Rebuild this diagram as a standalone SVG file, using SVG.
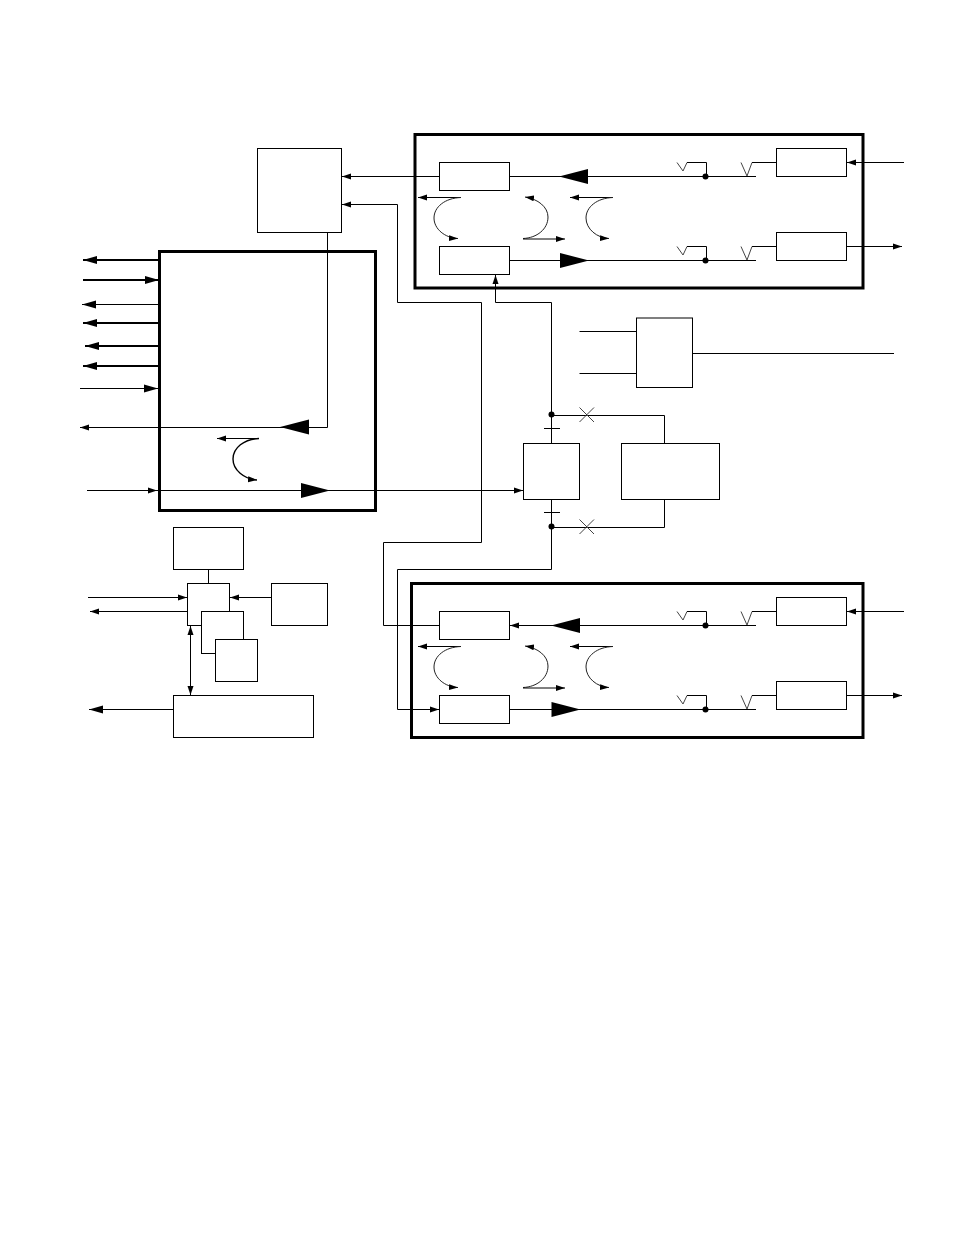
<svg xmlns="http://www.w3.org/2000/svg" xmlns:xlink="http://www.w3.org/1999/xlink" width="954" height="1235" viewBox="0 0 954 1235">
<style>
.b{fill:#fff;stroke:#000;stroke-width:1}
.f{fill:none;stroke:#000;stroke-width:3}
.l{fill:none;stroke:#000;stroke-width:1}
.t{fill:none;stroke:#000;stroke-width:2}
.c{fill:none;stroke:#222;stroke-width:1}
.s{fill:none;stroke:#444;stroke-width:1}
.a{marker-end:url(#m)}
.e{marker-end:url(#n)}
</style>
<defs>
<marker id="m" markerUnits="userSpaceOnUse" markerWidth="10" markerHeight="8" refX="9" refY="4" orient="auto"><path d="M0,1 L9,4 L0,7 Z" fill="#000"/></marker>
<marker id="n" markerUnits="userSpaceOnUse" markerWidth="14" markerHeight="10" refX="14" refY="5" orient="auto"><path d="M0,1 L14,5 L0,9 Z" fill="#000"/></marker>
<marker id="d" markerUnits="userSpaceOnUse" markerWidth="10" markerHeight="8" refX="9" refY="4" orient="auto-start-reverse"><path d="M0,1 L9,4 L0,7 Z" fill="#000"/></marker>
<path id="L" d="M0,0 L29,-7.5 L29,7.5 Z" fill="#000"/>
<path id="R" d="M0,-7.5 L29,0 L0,7.5 Z" fill="#000"/>
<g id="vv">
<path class="s" d="M677,162.5 L683,171 L687,162.5"/><path class="l" d="M687,162.5 H706.5 V176.5"/>
<path class="s" d="M741,162.5 L747,176 L752,162.5"/><path class="l" d="M752,162.5 H776.5"/>
<circle cx="705.5" cy="176.5" r="3" fill="#000"/>
</g>
<g id="cv">
<path class="l a" d="M461,197.5 H418"/>
<path class="c a" d="M461,197.5 C445,198 434,207 434,218 C434,229 445,238 458,238.5"/>
<path class="c a" d="M523,238.5 C537,238 548,229 548,217 C548,207 538,199 525,197"/>
<path class="l a" d="M523,239 H565"/>
<path class="l a" d="M613,197.5 H570"/>
<path class="c a" d="M613,197.5 C597,198 586,207 586,218 C586,229 597,238 609,238.5"/>
</g>
</defs>
<rect width="954" height="1235" fill="#fff"/>

<g id="connectors">
<path class="l a" d="M439.5,176.5 H342"/>
<path class="l" d="M509.5,176.5 H756"/>
<path class="l" d="M509.5,260.5 H756"/>
<path class="l a" d="M904,162.5 H847"/>
<path class="l a" d="M846.5,246.5 H902"/>
<path class="l a" d="M439.5,625.5 H383.5 V542.5 H481.5 V302.5 H397.5 V204.5 H342"/>
<path class="l a" d="M551.5,443.5 V302.5 H495.5 V275"/>
<path class="l a" d="M551.5,499.5 V569.5 H397.5 V709.5 H439"/>
<path class="l" d="M552,625.5 H756"/>
<path class="l" d="M509.5,709.5 H756"/>
<path class="l a" d="M904,611.5 H847"/>
<path class="l a" d="M846.5,695.5 H902"/>
<path class="l a" d="M552,625.5 H510"/>
<use xlink:href="#vv" href="#vv"/><use xlink:href="#vv" href="#vv" y="84"/>
<use xlink:href="#vv" href="#vv" y="449"/><use xlink:href="#vv" href="#vv" y="533"/>
<use xlink:href="#cv" href="#cv"/><use xlink:href="#cv" href="#cv" y="449"/>
<use xlink:href="#L" href="#L" x="559" y="176.5"/>
<use xlink:href="#R" href="#R" x="560" y="260.5"/>
<use xlink:href="#L" href="#L" x="551" y="625.5"/>
<use xlink:href="#R" href="#R" x="551.5" y="709.5"/>

<path class="t e" d="M159,260 H83"/>
<path class="t e" d="M83,280 H159"/>
<path class="l e" d="M159,304.5 H82"/>
<path class="t e" d="M159,323 H83"/>
<path class="t e" d="M159,346 H85"/>
<path class="t e" d="M159,366 H83"/>
<path class="l e" d="M80,388.5 H158"/>
<path class="l a" d="M327.5,232.5 V427.5 H80"/>
<use xlink:href="#L" href="#L" x="280" y="427"/>
<path class="l" d="M87,490.5 H523"/>
<path class="l a" d="M140,490.5 H157"/>
<path class="l a" d="M510,490.5 H523"/>
<use xlink:href="#R" href="#R" x="301" y="490.5"/>
<path class="l a" d="M259,438.5 H217"/>
<path class="l a" d="M259,438.5 C244,439 233,448 233,459 C233,470 244,479 257,480" style="stroke-width:1.4"/>

<path class="l" d="M579.5,331.5 H636"/>
<path class="l" d="M579.5,373.5 H636"/>
<path class="l" d="M692.5,353.5 H894"/>
<path class="l" d="M551.5,415.5 H664.5 V443.5"/>
<path class="l" d="M551.5,527.5 H664.5 V499.5"/>
<path class="l" d="M544,428.5 H560"/>
<path class="l" d="M544,512.5 H560"/>
<path class="s" d="M579.5,407.5 L594,422 M594,407.5 L579.5,422"/>
<path class="s" d="M579.5,519.5 L594,534 M594,519.5 L579.5,534"/>
<circle cx="551.5" cy="414.5" r="3" fill="#000"/>
<circle cx="551.5" cy="526.5" r="3" fill="#000"/>

<path class="l" d="M208.5,569.5 V583.5"/>
<path class="l a" d="M271.5,597.5 H230"/>
<path class="l a" d="M88,597.5 H187"/>
<path class="l a" d="M187.5,611.5 H90"/>
<path class="l a" d="M190.5,626 V695" style="marker-start:url(#d)"/>
<path class="l e" d="M173.5,709.5 H89"/>
</g>

<g id="top-module">
<rect class="f" x="415" y="134.5" width="448" height="153.5"/>
<rect class="b" x="439.5" y="162.5" width="70" height="28"/>
<rect class="b" x="439.5" y="246.5" width="70" height="28"/>
<rect class="b" x="776.5" y="148.5" width="70" height="28"/>
<rect class="b" x="776.5" y="232.5" width="70" height="28"/>
</g>
<g id="bottom-module">
<rect class="f" x="411.5" y="583.5" width="451.5" height="154"/>
<rect class="b" x="439.5" y="611.5" width="70" height="28"/>
<rect class="b" x="439.5" y="695.5" width="70" height="28"/>
<rect class="b" x="776.5" y="597.5" width="70" height="28"/>
<rect class="b" x="776.5" y="681.5" width="70" height="28"/>
</g>
<g id="upper-left-box"><rect class="b" x="257.5" y="148.5" width="84" height="84"/></g>
<g id="main-box"><rect class="f" x="159.5" y="251.5" width="216" height="259"/></g>
<g id="mid-box"><rect class="b" x="636.5" y="318" width="56" height="69.5"/></g>
<g id="switch-box"><rect class="b" x="523.5" y="443.5" width="56" height="56"/></g>
<g id="side-box"><rect class="b" x="621.5" y="443.5" width="98" height="56"/></g>
<g id="box-a"><rect class="b" x="173.5" y="527.5" width="70" height="42"/></g>
<g id="box-b"><rect class="b" x="187.5" y="583.5" width="42" height="42"/></g>
<g id="box-c"><rect class="b" x="201.5" y="611.5" width="42" height="42"/></g>
<g id="box-d"><rect class="b" x="215.5" y="639.5" width="42" height="42"/></g>
<g id="box-e"><rect class="b" x="271.5" y="583.5" width="56" height="42"/></g>
<g id="box-f"><rect class="b" x="173.5" y="695.5" width="140" height="42"/></g>
</svg>
